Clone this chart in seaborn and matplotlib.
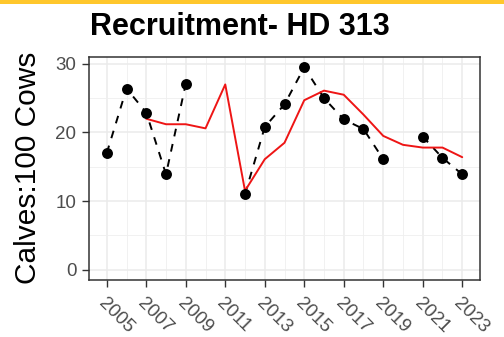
import numpy as np
import pandas as pd
import matplotlib
matplotlib.use("Agg")
import matplotlib.pyplot as plt
import seaborn as sns
from matplotlib.ticker import MultipleLocator
from matplotlib.patches import Rectangle

# Observed recruitment (calves per 100 cows); NaN = no survey that year
years = list(range(2005, 2024))
calves_per_100 = [17.0, 26.4, 22.9, 13.9, 27.1, np.nan, np.nan, 11.0, 20.8, 24.1,
                  29.5, 25.0, 21.9, 20.5, 16.1, np.nan, 19.4, 16.3, 13.9]

# Smoothed trend line
trend_years = list(range(2007, 2024))
trend_values = [22.0, 21.2, 21.2, 20.6, 27.0, 11.5, 16.1, 18.5, 24.7, 26.1,
                25.5, 22.6, 19.5, 18.2, 17.8, 17.8, 16.4]

x_breaks = list(range(2005, 2024, 2))
y_breaks = [0, 10, 20, 30]

obs = pd.DataFrame({"year": years, "ratio": calves_per_100})
# split the observed series into runs separated by missing years
obs["run"] = obs["ratio"].isna().cumsum()
obs_valid = obs.dropna(subset=["ratio"])
trend = pd.DataFrame({"year": trend_years, "ratio": trend_values})

sns.set_theme(style="whitegrid")
plt.rcParams["font.family"] = ["Liberation Sans", "DejaVu Sans"]

fig = plt.figure(figsize=(5.04, 3.37), dpi=100)
fig.patch.set_facecolor("white")
ax = fig.add_axes([89 / 504, 1 - 280 / 337, 391 / 504, 223 / 337])

sns.lineplot(data=obs_valid, x="year", y="ratio", units="run", estimator=None,
             color="black", linewidth=1.4, linestyle=(0, (4, 4)), ax=ax, zorder=3)
sns.lineplot(data=trend, x="year", y="ratio", color="#EE1515", linewidth=1.4,
             ax=ax, zorder=4)
sns.scatterplot(data=obs_valid, x="year", y="ratio", color="black", s=62,
                edgecolor="black", linewidth=0, ax=ax, zorder=5)

ax.set_xlim(2005 - 0.9, 2023 + 0.9)
ax.set_ylim(-1.5, 31.0)
ax.set_xticks(x_breaks)
ax.set_yticks(y_breaks)
ax.xaxis.set_minor_locator(MultipleLocator(1))
ax.yaxis.set_minor_locator(MultipleLocator(5))
ax.grid(which="major", color="#EBEBEB", linewidth=1.1)
ax.grid(which="minor", color="#EFEFEF", linewidth=0.6)
ax.set_axisbelow(True)
for side in ax.spines.values():
    side.set_edgecolor("#333333")
    side.set_linewidth(1.1)
ax.tick_params(axis="both", which="major", length=5, width=1.0, color="#333333",
               labelcolor="#4D4D4D", labelsize=13.5, left=True, bottom=True)
ax.tick_params(axis="y", which="major", pad=4)
ax.tick_params(axis="x", which="major", pad=6)
ax.tick_params(axis="both", which="minor", length=0)
ax.set_xlabel("")
ax.set_ylabel("")
for lbl in ax.get_xticklabels():
    lbl.set_rotation(-45)
    lbl.set_ha("left")
    lbl.set_va("top")
    lbl.set_rotation_mode("anchor")

fig.text(90 / 504, 1 - 35 / 337, "Recruitment- HD 313", ha="left", va="baseline",
         fontsize=22, fontweight="bold", color="black")
fig.text(28 / 504, 1 - 168 / 337, "Calves:100 Cows", rotation=90, ha="center",
         va="center", fontsize=21.5, color="black")

# gold header band along the top edge
fig.patches.append(Rectangle((0, 1 - 4 / 337), 1, 4 / 337, transform=fig.transFigure,
                             facecolor="#FFC72C", edgecolor="none", zorder=10))

fig.savefig("out.png", dpi=100)
